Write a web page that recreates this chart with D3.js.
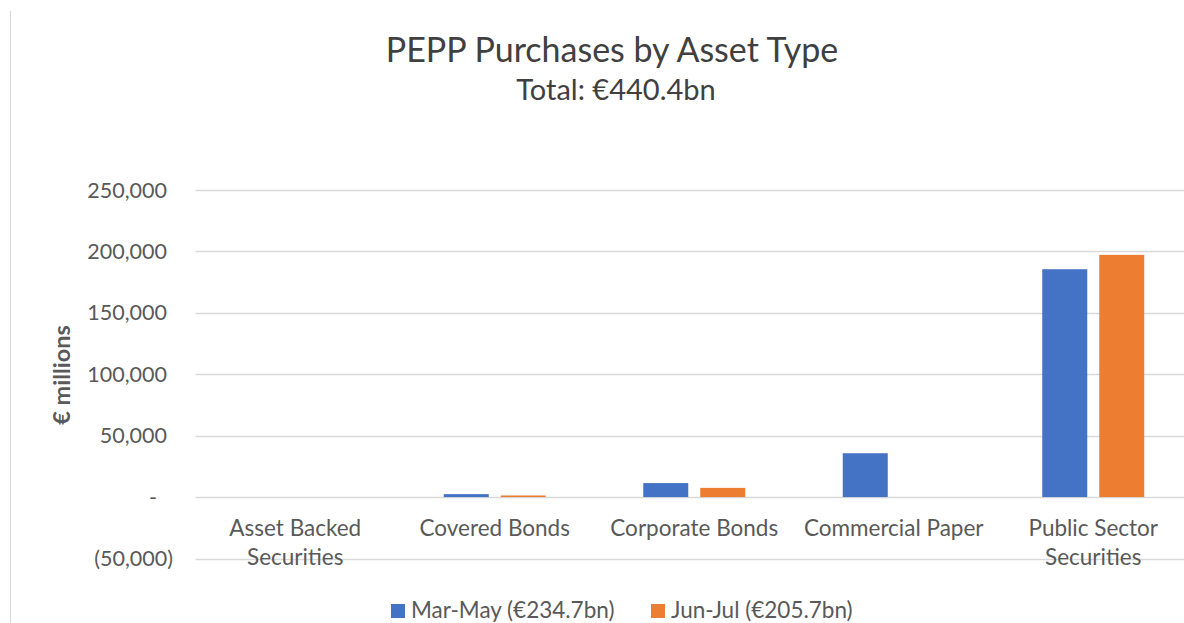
<!DOCTYPE html>
<html>
<head>
<meta charset="utf-8">
<script src="https://cdn.jsdelivr.net/npm/d3@7"></script>
<style>
  html, body { margin: 0; padding: 0; background: #fff; }
  svg { display: block; font-family: Lato, "Open Sans", sans-serif; }
</style>
</head>
<body>
<svg id="chart" width="1184" height="623"></svg>
<script>
const categories = [
  ["Asset Backed", "Securities"],
  ["Covered Bonds"],
  ["Corporate Bonds"],
  ["Commercial Paper"],
  ["Public Sector", "Securities"]
];
const seriesNames = ["Mar-May (€234.7bn)", "Jun-Jul (€205.7bn)"];
const marMay = [0, 2400, 11400, 35700, 185500];
const junJul = [0, 1300, 7500, 0, 197200];
const yTicks = [-50000, 0, 50000, 100000, 150000, 200000, 250000];
const title = "PEPP Purchases by Asset Type";
const subtitle = "Total: €440.4bn";
const yTitle = "€ millions";
const colors = ["#4472C4", "#ED7D31"];

const svg = d3.select("#chart");
const W = 1184, H = 623;

// frame border (left edge visible)
svg.append("line").attr("x1", 10.5).attr("x2", 10.5).attr("y1", 11).attr("y2", H)
  .attr("stroke", "#d9d9d9").attr("stroke-width", 1);

const plotLeft = 195.5, plotRight = 1193;
const y = d3.scaleLinear().domain([-50000, 250000]).range([558.5, 190]);
const catIdx = categories.map((d, i) => i);
const x0 = d3.scaleBand().domain(catIdx).range([plotLeft, plotRight]).padding(0);
const groupW = 102;
const x1 = d3.scaleBand().domain([0, 1])
  .range([(x0.bandwidth() - groupW) / 2, (x0.bandwidth() + groupW) / 2])
  .paddingInner(0.2105).paddingOuter(0);

// gridlines
svg.append("g").selectAll("line").data(yTicks).join("line")
  .attr("x1", plotLeft).attr("x2", plotRight)
  .attr("y1", d => Math.round(y(d)) + 0.5).attr("y2", d => Math.round(y(d)) + 0.5)
  .attr("stroke", "#d9d9d9").attr("stroke-width", 1.5);

// y tick labels (accounting format)
const fmt = d3.format(",");
const yl = svg.append("g").attr("fill", "#595959").attr("font-size", 21.5);
yl.selectAll("text").data(yTicks).join("text")
  .attr("x", d => d === 0 ? 153 : (d < 0 ? 173 : 167))
  .attr("y", d => y(d))
  .attr("dy", "0.35em")
  .attr("text-anchor", d => d === 0 ? "middle" : "end")
  .text(d => d === 0 ? "-" : (d < 0 ? "(" + fmt(-d) + ")" : fmt(d)));

// y axis title
svg.append("text")
  .attr("transform", `translate(70,${375}) rotate(-90)`)
  .attr("text-anchor", "middle")
  .attr("fill", "#595959").attr("font-size", 23.5).attr("font-weight", "bold")
  .text(yTitle);

// bars
const seriesData = [marMay, junJul];
seriesData.forEach((vals, s) => {
  svg.append("g").attr("fill", colors[s]).selectAll("rect").data(vals).join("rect")
    .attr("x", (d, i) => x0(i) + x1(s))
    .attr("width", x1.bandwidth())
    .attr("y", d => y(Math.max(0, d)))
    .attr("height", d => Math.abs(y(d) - y(0)));
});

// category labels
const cl = svg.append("g").attr("fill", "#595959").attr("font-size", 22.5).attr("text-anchor", "middle");
categories.forEach((lines, i) => {
  const t = cl.append("text").attr("x", x0(i) + x0.bandwidth() / 2).attr("y", 536);
  lines.forEach((ln, j) => {
    t.append("tspan").attr("x", x0(i) + x0.bandwidth() / 2).attr("dy", j === 0 ? 0 : 29).text(ln);
  });
});

// titles
svg.append("text").attr("x", 612).attr("y", 62).attr("text-anchor", "middle")
  .attr("fill", "#404040").attr("font-size", 34).text(title);
svg.append("text").attr("x", 616).attr("y", 100).attr("text-anchor", "middle")
  .attr("fill", "#404040").attr("font-size", 29).text(subtitle);

// legend
const legend = svg.append("g").attr("font-size", 22.5).attr("fill", "#595959");
const legendX = [391, 651];
seriesNames.forEach((name, s) => {
  const g = legend.append("g").attr("transform", `translate(${legendX[s]},604)`);
  g.append("rect").attr("width", 14).attr("height", 14).attr("fill", colors[s]);
  g.append("text").attr("x", 20).attr("y", 14).text(name);
});
</script>
</body>
</html>
